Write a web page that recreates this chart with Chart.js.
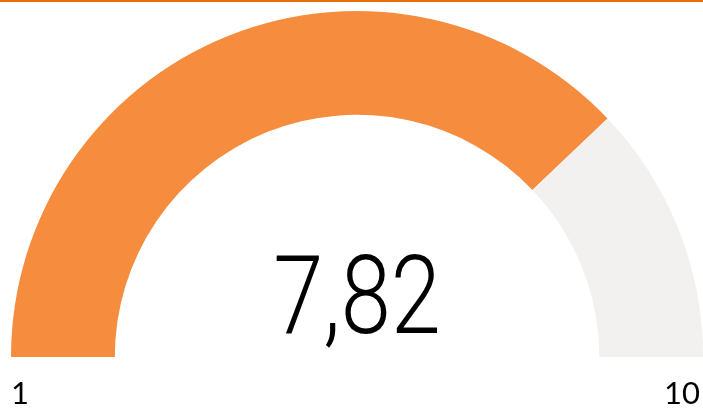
<!DOCTYPE html>
<html>
<head>
<meta charset="utf-8">
<script src="https://cdn.jsdelivr.net/npm/chart.js@4"></script>
<style>
  html, body { margin: 0; padding: 0; background: #fff; }
  #wrap { width: 703px; height: 411px; position: relative; }
</style>
</head>
<body>
<div id="wrap"><canvas id="gauge" width="703" height="411"></canvas></div>
<script>
// gauge values
const gaugeMin = 1;
const gaugeMax = 10;
const gaugeValue = 7.82;
const segmentLabels = ['Wert', 'Rest'];
const segmentValues = [gaugeValue - gaugeMin, gaugeMax - gaugeValue];
const segmentColors = ['#F68D3E', '#F2F1F0'];
const scaleLabels = [String(gaugeMin), String(gaugeMax)];
const centerLabel = gaugeValue.toFixed(2).replace('.', ',');

const gaugeText = {
    id: 'gaugeText',
    beforeDraw(chart) {
        const ctx = chart.ctx;
        ctx.save();
        ctx.fillStyle = '#E8700C';
        ctx.fillRect(0, 0, chart.width, 2);
        ctx.restore();
    },
    afterDraw(chart) {
        const arc = chart.getDatasetMeta(0).data[0];
        if (!arc) return;
        const ctx = chart.ctx;
        const cx = arc.x, cy = arc.y, r = arc.outerRadius;
        ctx.save();
        ctx.fillStyle = '#000';
        ctx.textBaseline = 'alphabetic';
        ctx.font = '31px Lato, "Open Sans", sans-serif';
        ctx.textAlign = 'left';
        ctx.fillText(scaleLabels[0], cx - r, cy + 47);
        ctx.textAlign = 'right';
        ctx.fillText(scaleLabels[1], cx + r - 3, cy + 47);

        // big value in the middle, a bit condensed
        ctx.font = '300 110px Roboto, sans-serif';
        ctx.textAlign = 'center';
        ctx.translate(cx, cy - 24);
        ctx.scale(0.82, 1);
        ctx.fillText(centerLabel, 0, 0);
        ctx.restore();
    }
};

new Chart(document.getElementById('gauge').getContext('2d'), {
    type: 'doughnut',
    data: {
        labels: segmentLabels,
        datasets: [{
            data: segmentValues,
            backgroundColor: segmentColors,
            borderWidth: 0
        }]
    },
    options: {
        responsive: false,
        animation: false,
        rotation: -90,
        circumference: 180,
        cutout: '70%',
        layout: { padding: { left: 11, right: 0, top: 11, bottom: 54 } },
        plugins: {
            legend: { display: false },
            tooltip: { enabled: false }
        }
    },
    plugins: [gaugeText]
});
</script>
</body>
</html>
